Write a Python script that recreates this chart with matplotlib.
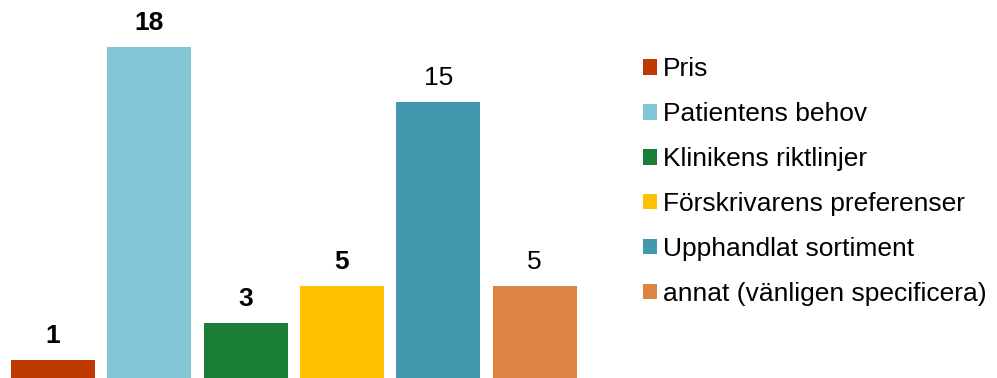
import matplotlib
matplotlib.use("Agg")
import matplotlib.pyplot as plt
from matplotlib.patches import Patch

categories = ["Pris", "Patientens behov", "Klinikens riktlinjer",
              "Förskrivarens preferenser", "Upphandlat sortiment",
              "annat (vänligen specificera)"]
values = [1, 18, 3, 5, 15, 5]
bold_labels = [True, True, True, True, False, False]
colors = ["#BE3A00", "#83C5D4", "#1B7E37", "#FFC000", "#4398B0", "#DC8442"]

plt.rcParams['font.family'] = ['Liberation Sans', 'DejaVu Sans']

fig = plt.figure(figsize=(9.97, 3.78), dpi=100)
ax = fig.add_axes([4.8/997, 0, 578/997, 1])
x = list(range(len(values)))
bars = ax.bar(x, values, width=0.87, color=colors)
ax.set_xlim(-0.5, len(values) - 0.5)
ax.set_ylim(0, 20.55)
ax.axis('off')

for xi, v, b in zip(x, values, bold_labels):
    ax.annotate(str(v), (xi, v), xytext=(0, 12.2), textcoords='offset points',
                ha='center', va='baseline', fontsize=19,
                fontweight='bold' if b else 'normal', color='black')

handles = [Patch(facecolor=c, edgecolor='none') for c in colors]
fig.legend(handles, categories, loc='upper left', bbox_to_anchor=(643/997, 1 - 57.5/378),
           frameon=False, fontsize=19, handlelength=0.53, handleheight=0.53,
           handletextpad=0.23, labelspacing=0.79, borderpad=0, borderaxespad=0)

fig.savefig("out.png", dpi=100)
